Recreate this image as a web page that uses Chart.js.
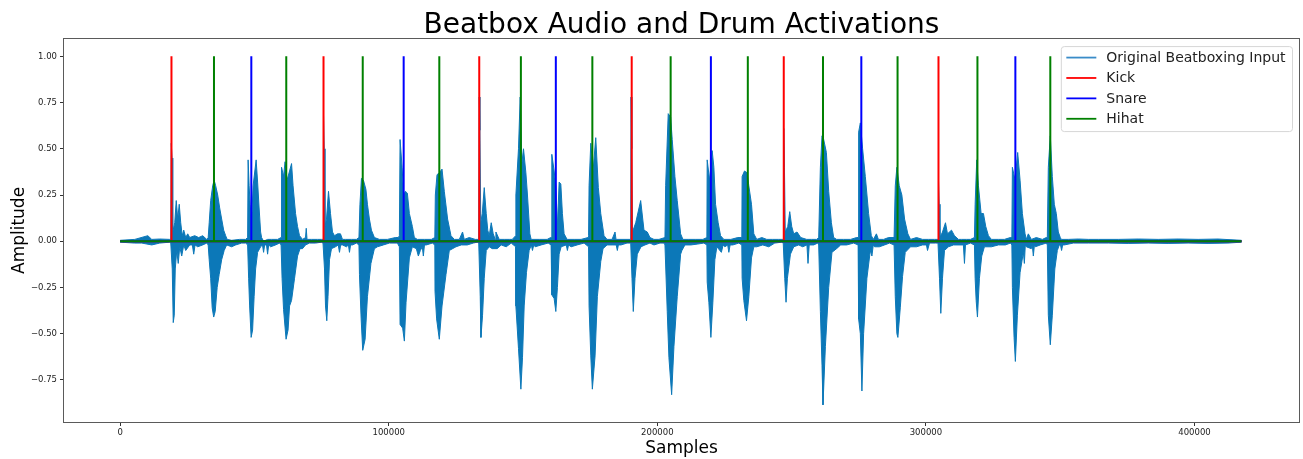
<!DOCTYPE html>
<html>
<head>
<meta charset="utf-8">
<script src="https://cdn.jsdelivr.net/npm/chart.js@4.4.1/dist/chart.umd.min.js"></script>
<style>
  html, body { margin: 0; padding: 0; background: #ffffff; }
  canvas { display: block; }
</style>
</head>
<body>
<canvas id="c" width="1303" height="459"></canvas>
<script>
// ---------------- data ----------------
const chartTitle = 'Beatbox Audio and Drum Activations';
const xAxisTitle = 'Samples';
const yAxisTitle = 'Amplitude';
const seriesNames = ['Original Beatboxing Input', 'Kick', 'Snare', 'Hihat'];
const xTicks = [0, 100000, 200000, 300000, 400000];
const yTicks = [-0.75, -0.5, -0.25, 0, 0.25, 0.5, 0.75, 1.0];
const audioLength = 417500;
const activationLevel = 1;

// drum onsets (sample index)
const kickOnsets  = [19110, 75720, 133700, 190460, 247070, 304680];
const snareOnsets = [48840, 105560, 162210, 219940, 275950, 333300];
const hihatOnsets = [34940, 61850, 90320, 118830, 149200, 175810, 204960, 233690, 261680, 289440, 319180, 346310];

// audio waveform envelope: [sample, amplitude]
const audioUpper = [
[0,0.005],[5460,0.01],[10300,0.03],[11780,0.01],[14760,0.012],[18470,0.01],
[18850,0.01],[19030,0.53],[19330,0.45],[19590,0.05],[20330,0.1],[20890,0.22],[21450,0.12],[22000,0.2],[22560,0.1],[23120,0.03],[23680,0.06],[24420,0.02],[25160,0.04],[25910,0.02],
[27770,0.03],[29250,0.02],[30740,0.03],[32230,0.01],
[32780,0.02],[33160,0.1],[33710,0.22],[34460,0.3],[35010,0.33],[35570,0.3],[36320,0.25],[37060,0.18],[37800,0.12],[38550,0.06],[39290,0.03],[39850,0.01],
[41520,0.005],[44490,0.01],[46720,0.01],
[47470,0.02],[47650,0.44],[48020,0.3],[48400,0.2],[48950,0.1],[49510,0.3],[50630,0.44],[51180,0.32],[51740,0.18],[52300,0.05],[52670,0.02],
[53410,0.0],[54900,0.01],[56390,0.01],[58620,0.01],
[59920,0.02],[60100,0.4],[60850,0.35],[61400,0.43],[62150,0.33],[63080,0.38],[63820,0.42],[64380,0.3],[65310,0.15],[66050,0.08],[66790,0.03],
[67910,0.01],[69020,0.02],[69290,0.07],[69580,0.01],[71250,0.01],[73490,0.01],[74970,0.01],
[75530,0.01],[75720,0.68],[75980,0.5],[76270,0.08],[76830,0.12],[77570,0.27],[78320,0.15],[79060,0.05],[79800,0.03],[80920,0.04],[82030,0.04],[82780,0.01],
[83890,0.01],[86120,0.01],[87980,0.01],
[88910,0.02],[89280,0.2],[89840,0.34],[90580,0.33],[91510,0.28],[92070,0.2],[92810,0.12],[93560,0.06],[94670,0.02],
[96530,0.01],[99500,0.01],[102480,0.02],[103590,0.02],
[103960,0.03],[104220,0.55],[104970,0.4],[105560,0.25],[106190,0.27],[106940,0.26],[107680,0.15],[108800,0.08],[109540,0.02],
[110650,0.01],[113260,0.01],[115860,0.01],
[117160,0.02],[117350,0.25],[117980,0.36],[118830,0.37],[119840,0.39],[120690,0.27],[121920,0.12],[123180,0.03],
[124410,0.01],[126270,0.01],[127490,0.05],[128120,0.01],[129980,0.02],[132210,0.01],
[133510,0.01],[133700,0.78],[133960,0.6],[134260,0.1],[134820,0.15],[135560,0.29],[136300,0.15],[136860,0.06],[137420,0.03],[138160,0.1],[138900,0.04],[139650,0.01],
[139910,0.05],[141130,0.01],[142990,0.01],[144850,0.01],[145970,0.01],
[147270,0.03],[147340,0.25],[148310,0.5],[148940,0.78],[149570,0.42],[150170,0.5],[151060,0.37],[151650,0.25],[152540,0.04],
[153030,0.01],[156000,0.01],[158980,0.01],[160280,0.02],
[160460,0.02],[160720,0.47],[161580,0.38],[162210,0.3],[162800,0.08],[163440,0.32],[164070,0.31],[164660,0.15],[165290,0.04],
[166410,0.01],[169010,0.01],[171610,0.01],[174220,0.02],
[174400,0.03],[174590,0.3],[175220,0.53],[176070,0.38],[177080,0.56],[178040,0.29],[178940,0.15],[180160,0.03],
[181280,0.01],[183140,0.01],[184250,0.05],[184620,0.01],[186480,0.01],[188710,0.01],
[190090,0.01],[190200,0.78],[190500,0.5],[190760,0.05],[191950,0.1],[193800,0.22],[195030,0.06],[196260,0.05],[197260,0.02],[198750,0.01],[200610,0.01],
[202840,0.02],[203100,0.3],[204060,0.69],[204960,0.67],[205550,0.55],[206550,0.35],[207410,0.22],[208670,0.04],
[209530,0.01],[211760,0.01],[214360,0.01],[216960,0.01],
[218450,0.02],[218560,0.44],[219450,0.33],[220420,0.49],[221050,0.4],[221680,0.2],[222650,0.1],[223540,0.03],
[224770,0.01],[227370,0.01],[229970,0.02],
[231460,0.02],[231570,0.35],[232460,0.38],[233430,0.37],[234060,0.3],[235060,0.2],[235920,0.04],
[237030,0.01],[238890,0.02],[240750,0.01],[242980,0.01],[245210,0.01],
[246880,0.01],[247070,0.61],[247330,0.4],[247630,0.05],[248560,0.08],[249300,0.16],[250040,0.08],[250790,0.04],[252010,0.05],[253390,0.02],[255620,0.01],[257480,0.01],[259340,0.01],
[260080,0.02],[260710,0.4],[261310,0.57],[261940,0.55],[262940,0.48],[263800,0.27],[264800,0.1],[265650,0.02],
[266760,0.01],[269370,0.01],[271970,0.01],[274190,0.02],
[274760,0.02],[274950,0.59],[275580,0.64],[276430,0.5],[277440,0.35],[278660,0.15],[279670,0.03],
[280450,0.01],[281570,0.04],[282300,0.01],[284240,0.01],[286100,0.02],
[288140,0.02],[288590,0.3],[289190,0.4],[290070,0.3],[291040,0.25],[292050,0.12],[293270,0.04],
[294270,0.01],[296500,0.02],[298740,0.01],[300970,0.01],[303200,0.01],
[304500,0.01],[304680,0.33],[304940,0.2],[305240,0.02],[306170,0.05],[307280,0.1],[308030,0.04],[309520,0.06],[310630,0.03],[312120,0.01],[313230,0.01],[315090,0.01],[316580,0.01],
[318060,0.02],[318320,0.2],[318920,0.44],[319550,0.3],[320550,0.15],[321410,0.15],[322270,0.08],[323270,0.03],
[324380,0.01],[326980,0.01],[329210,0.01],[331440,0.02],
[332000,0.02],[332190,0.4],[333190,0.33],[334160,0.48],[335050,0.33],[335910,0.15],[336910,0.04],
[337380,0.01],[338120,0.04],[339250,0.01],[341110,0.02],[343340,0.01],[344830,0.02],
[345200,0.02],[345570,0.4],[346310,0.57],[347060,0.35],[347800,0.2],[348540,0.15],[349290,0.05],[350030,0.02],
[350400,0.01],[353000,0.01],[356720,0.012],[360440,0.01],[364150,0.01],[371590,0.01],[379020,0.012],[386460,0.01],[393890,0.012],[401330,0.01],[408760,0.012],[417490,0.005]
];
const audioLower = [
[0,-0.005],[5460,-0.01],[8070,-0.01],[11780,-0.02],[14760,-0.01],[18470,-0.005],
[18850,-0.01],[19400,-0.15],[19770,-0.44],[20150,-0.4],[20520,-0.15],[21080,-0.05],[21630,-0.12],[22190,-0.03],[22930,-0.08],[23680,-0.02],[24420,-0.05],[25910,-0.02],
[26900,-0.02],[27390,-0.07],[27900,-0.02],[28880,-0.03],[30740,-0.02],[32230,-0.01],
[32780,-0.02],[33160,-0.1],[33710,-0.2],[34270,-0.36],[34830,-0.41],[35390,-0.38],[36130,-0.25],[36870,-0.18],[37800,-0.1],[38730,-0.05],[39660,-0.02],
[41520,-0.03],[43010,-0.02],[45240,-0.01],[46720,-0.01],
[47470,-0.02],[47840,-0.2],[48210,-0.35],[48770,-0.52],[49320,-0.48],[49880,-0.3],[50440,-0.15],[51180,-0.06],[52300,-0.03],
[53000,-0.02],[53410,-0.06],[53800,-0.02],[54500,-0.02],[54900,-0.07],[55300,-0.02],[56010,-0.03],[57870,-0.02],[59360,-0.01],
[59920,-0.02],[60290,-0.2],[60850,-0.37],[61780,-0.53],[62520,-0.48],[63080,-0.35],[63820,-0.32],[64940,-0.2],[66050,-0.08],[66980,-0.04],
[67910,-0.04],[69020,-0.02],[70510,-0.01],[72740,-0.01],[74970,-0.005],
[75530,-0.01],[76090,-0.15],[76460,-0.35],[76940,-0.43],[77390,-0.3],[77950,-0.1],[78690,-0.04],[80170,-0.03],[81200,-0.02],[81660,-0.06],[82100,-0.02],[82780,-0.02],
[84260,-0.03],[85000,-0.02],[85380,-0.06],[85800,-0.02],[86490,-0.02],[87980,-0.01],
[88910,-0.02],[89100,-0.18],[89730,-0.42],[90320,-0.59],[91210,-0.53],[92070,-0.3],[93370,-0.12],[94670,-0.04],
[95790,-0.03],[98020,-0.02],[100250,-0.01],[103220,-0.01],
[103960,-0.03],[104220,-0.45],[105190,-0.47],[105820,-0.54],[106450,-0.33],[107680,-0.09],[108800,-0.03],
[110280,-0.04],[111030,-0.08],[111770,-0.05],[112500,-0.03],[112890,-0.08],[113300,-0.02],[114000,-0.02],[116230,-0.01],
[117160,-0.02],[117230,-0.27],[117830,-0.42],[118830,-0.53],[119840,-0.35],[121320,-0.18],[122550,-0.05],
[125040,-0.03],[127010,-0.02],[129240,-0.02],[131470,-0.01],[132960,-0.005],
[133510,-0.01],[134070,-0.3],[134330,-0.52],[134930,-0.4],[135560,-0.2],[136300,-0.05],[137420,-0.03],[138530,-0.04],
[140390,-0.04],[141880,-0.02],[143740,-0.03],[145600,-0.01],
[147270,-0.03],[147340,-0.35],[148310,-0.58],[149200,-0.8],[149800,-0.63],[150430,-0.35],[151280,-0.17],[152280,-0.05],
[153100,-0.02],[153510,-0.05],[154000,-0.02],[154520,-0.03],[156750,-0.02],[159350,-0.01],
[160460,-0.02],[160720,-0.29],[161580,-0.31],[162210,-0.38],[162800,-0.25],[163440,-0.07],[164180,-0.03],
[166100,-0.02],[166520,-0.05],[166950,-0.02],[167900,-0.03],[170130,-0.02],[172730,-0.01],
[174400,-0.03],[174590,-0.35],[175220,-0.62],[175810,-0.8],[176820,-0.62],[177670,-0.3],[178940,-0.11],[179790,-0.04],
[181280,-0.02],[183140,-0.02],[184700,-0.02],[185110,-0.05],[185500,-0.02],[186480,-0.02],[188710,-0.01],
[190090,-0.01],[190570,-0.2],[191050,-0.38],[191690,-0.2],[192540,-0.07],[193920,-0.03],[195400,-0.02],[197260,-0.01],[198750,-0.02],[200980,-0.01],[202470,-0.01],
[202840,-0.02],[203690,-0.38],[204320,-0.63],[205330,-0.83],[206180,-0.57],[207410,-0.3],[208670,-0.07],
[209160,-0.05],[210270,-0.02],[212500,-0.02],[215100,-0.015],[217330,-0.01],
[218450,-0.02],[218560,-0.22],[219190,-0.33],[219940,-0.52],[220680,-0.33],[221420,-0.1],[222170,-0.03],
[223840,-0.06],[224500,-0.02],[225140,-0.03],[226200,-0.02],[226630,-0.06],[227100,-0.02],[228110,-0.02],[230340,-0.01],
[231460,-0.02],[231570,-0.2],[232200,-0.32],[233200,-0.43],[234060,-0.3],[235060,-0.09],[235920,-0.03],
[237030,-0.03],[239260,-0.02],[241490,-0.03],[243720,-0.01],[246330,-0.005],
[246880,-0.01],[247440,-0.2],[247920,-0.33],[248430,-0.2],[249560,-0.07],[250790,-0.03],[252640,-0.02],[254130,-0.03],[255700,-0.02],[256100,-0.12],[256550,-0.02],[258220,-0.02],[259710,-0.01],
[260080,-0.02],[260710,-0.38],[261310,-0.67],[261680,-0.885],[262570,-0.57],[263800,-0.25],[265020,-0.06],
[266760,-0.04],[268260,-0.02],[270490,-0.02],[273090,-0.01],
[274760,-0.02],[274950,-0.42],[275580,-0.5],[276170,-0.81],[276800,-0.5],[278030,-0.2],[279300,-0.05],
[279890,-0.08],[280400,-0.02],[280890,-0.03],[282680,-0.03],[284610,-0.02],[286470,-0.01],
[288140,-0.02],[288590,-0.3],[289190,-0.5],[289560,-0.52],[290450,-0.36],[291300,-0.19],[292300,-0.06],
[294270,-0.03],[296500,-0.03],[298740,-0.02],[300200,-0.02],[300590,-0.05],[301340,-0.01],[303570,-0.01],
[304500,-0.01],[305050,-0.2],[305540,-0.39],[306170,-0.2],[306910,-0.05],[308400,-0.03],[310260,-0.02],[313950,-0.02],[314350,-0.12],[314720,-0.02],[316580,-0.01],
[318060,-0.02],[318320,-0.2],[318700,-0.32],[319180,-0.41],[319920,-0.2],[320780,-0.08],[321780,-0.03],
[324380,-0.03],[326980,-0.02],[329590,-0.02],[331440,-0.01],
[332000,-0.02],[332190,-0.25],[332820,-0.52],[333300,-0.65],[334050,-0.4],[335050,-0.17],[336280,-0.06],
[336650,-0.12],[337000,-0.02],[337380,-0.03],[339250,-0.04],[339600,-0.02],[339990,-0.08],[340400,-0.02],[340730,-0.03],[342600,-0.02],[344830,-0.01],
[345200,-0.02],[345570,-0.4],[346310,-0.56],[347060,-0.4],[347990,-0.15],[348920,-0.05],[349660,-0.02],
[350100,-0.02],[350510,-0.05],[350900,-0.02],[351520,-0.02],[354860,-0.01],[360440,-0.01],[367870,-0.01],[375310,-0.012],[382740,-0.01],[390170,-0.012],[397610,-0.01],[405040,-0.012],[412470,-0.01],[417490,-0.005]
];

// ---------------- styling ----------------
const FONT = '"DejaVu Sans", Verdana, sans-serif';
const audioColor = '#0c78b8';
const kickColor = '#ff0000';
const snareColor = '#0000ff';
const hihatColor = '#008000';

function toPoints(pairs) { return pairs.map(p => ({ x: p[0], y: p[1] })); }
function activation(onsets) {
  const pts = [{ x: 0, y: 0 }];
  onsets.forEach(o => { pts.push({ x: o, y: 0 }, { x: o, y: activationLevel }, { x: o, y: 0 }); });
  pts.push({ x: audioLength, y: 0 });
  return pts;
}

const frameAndLegend = {
  id: 'frameAndLegend',
  afterDraw(chart) {
    const ctx = chart.ctx;
    const a = chart.chartArea;
    ctx.save();
    // axes frame (all four spines)
    ctx.strokeStyle = '#5a5a5a';
    ctx.lineWidth = 1;
    ctx.strokeRect(Math.round(a.left) - 0.5, Math.round(a.top) - 0.5,
                   Math.round(a.right - a.left) + 1, Math.round(a.bottom - a.top) + 1);

    // legend
    const items = chart.data.datasets.filter(d => d.showInLegend);
    ctx.font = '14px ' + FONT;
    let maxW = 0;
    items.forEach(d => { maxW = Math.max(maxW, ctx.measureText(d.label).width); });
    const padL = 5, lineLen = 30, gap = 10, padR = 7;
    const w = padL + lineLen + gap + maxW + padR;
    const rowH = 20.4;
    const h = 11 + rowH * (items.length - 1) + 11 + 1.8;
    const right = a.right - 6.5;
    const x0 = right - w;
    const y0 = a.top + 7.7;
    const r = 3;
    ctx.beginPath();
    ctx.moveTo(x0 + r, y0);
    ctx.lineTo(x0 + w - r, y0);
    ctx.quadraticCurveTo(x0 + w, y0, x0 + w, y0 + r);
    ctx.lineTo(x0 + w, y0 + h - r);
    ctx.quadraticCurveTo(x0 + w, y0 + h, x0 + w - r, y0 + h);
    ctx.lineTo(x0 + r, y0 + h);
    ctx.quadraticCurveTo(x0, y0 + h, x0, y0 + h - r);
    ctx.lineTo(x0, y0 + r);
    ctx.quadraticCurveTo(x0, y0, x0 + r, y0);
    ctx.closePath();
    ctx.fillStyle = 'rgba(255,255,255,0.85)';
    ctx.fill();
    ctx.strokeStyle = '#d6d6d6';
    ctx.lineWidth = 1;
    ctx.stroke();
    items.forEach((d, i) => {
      const cy = y0 + 11 + i * rowH;
      ctx.strokeStyle = d.legendColor || d.borderColor;
      ctx.lineWidth = 1.8;
      ctx.beginPath();
      ctx.moveTo(x0 + padL, cy);
      ctx.lineTo(x0 + padL + lineLen, cy);
      ctx.stroke();
      ctx.fillStyle = '#222222';
      ctx.textBaseline = 'middle';
      ctx.textAlign = 'left';
      ctx.fillText(d.label, x0 + padL + lineLen + gap, cy + 0.5);
    });
    ctx.restore();
  }
};

const lineDefaults = { pointRadius: 0, pointHoverRadius: 0, tension: 0, spanGaps: true };

new Chart(document.getElementById('c').getContext('2d'), {
  type: 'line',
  data: {
    datasets: [
      Object.assign({ label: seriesNames[0], showInLegend: true, legendColor: '#3a8cc8',
        data: toPoints(audioUpper), borderColor: audioColor, backgroundColor: audioColor,
        borderWidth: 1, fill: 'origin', order: 6 }, lineDefaults),
      Object.assign({ label: seriesNames[0] + ' (lower)', showInLegend: false,
        data: toPoints(audioLower), borderColor: audioColor, backgroundColor: audioColor,
        borderWidth: 1, fill: 'origin', order: 5 }, lineDefaults),
      Object.assign({ label: seriesNames[1], showInLegend: true, data: activation(kickOnsets),
        borderColor: kickColor, borderWidth: 2, fill: false, order: 3 }, lineDefaults),
      Object.assign({ label: seriesNames[2], showInLegend: true, data: activation(snareOnsets),
        borderColor: snareColor, borderWidth: 2, fill: false, order: 2 }, lineDefaults),
      Object.assign({ label: seriesNames[3], showInLegend: true, data: activation(hihatOnsets),
        borderColor: hihatColor, borderWidth: 2, fill: false, order: 1 }, lineDefaults)
    ]
  },
  options: {
    responsive: false,
    animation: false,
    devicePixelRatio: 1,
    events: [],
    layout: { padding: { left: 0, right: 4, top: 0, bottom: 0 } },
    plugins: {
      legend: { display: false },
      tooltip: { enabled: false },
      title: {
        display: true, text: chartTitle, fullSize: false,
        color: '#000000',
        font: { family: FONT, size: 28, weight: 'normal', lineHeight: 0.96 },
        padding: { top: 12, bottom: 0 }
      }
    },
    scales: {
      x: {
        type: 'linear',
        min: -20900, max: 438900,
        afterBuildTicks: s => { s.ticks = xTicks.map(v => ({ value: v })); },
        afterFit: s => { s.height = 37; },
        border: { display: false },
        grid: { display: true, drawOnChartArea: false, drawTicks: true, tickLength: 4, tickColor: '#333333', tickWidth: 1 },
        ticks: { color: '#222222', font: { family: FONT, size: 8.5 }, padding: 2, maxRotation: 0, autoSkip: false,
                 callback: v => String(v) },
        title: { display: true, text: xAxisTitle, color: '#000000',
                 font: { family: FONT, size: 17 }, padding: { top: 0, bottom: 0 } }
      },
      y: {
        type: 'linear',
        min: -0.9775, max: 1.0943,
        afterBuildTicks: s => { s.ticks = yTicks.map(v => ({ value: v })); },
        afterFit: s => { s.width = 64; },
        border: { display: false },
        grid: { display: true, drawOnChartArea: false, drawTicks: true, tickLength: 4, tickColor: '#333333', tickWidth: 1 },
        ticks: { color: '#222222', font: { family: FONT, size: 8.5 }, padding: 3, autoSkip: false,
                 callback: v => (v < 0 ? '\u2212' : '') + Math.abs(v).toFixed(2) },
        title: { display: true, text: yAxisTitle, color: '#000000',
                 font: { family: FONT, size: 17 }, padding: { top: 9, bottom: 0 } }
      }
    }
  },
  plugins: [frameAndLegend]
});
</script>
</body>
</html>
